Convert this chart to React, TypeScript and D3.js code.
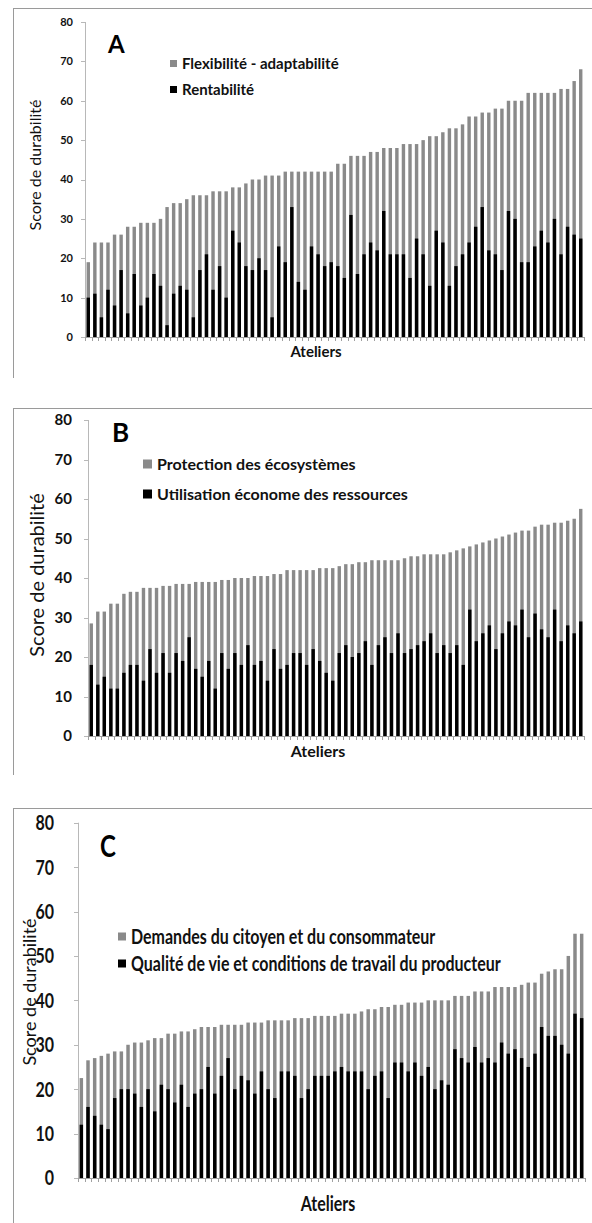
import { useEffect } from 'react';
import * as d3 from 'd3';

// A : Flexibilité - adaptabilité (gray total) / Rentabilité (black)
const totalA = [
  19, 24, 24, 24, 26, 26, 28, 28, 29, 29,
  29, 30, 33, 34, 34, 35, 36, 36, 36, 37,
  37, 37, 38, 38, 39, 40, 40, 41, 41, 41,
  42, 42, 42, 42, 42, 42, 42, 42, 44, 44,
  46, 46, 46, 47, 47, 48, 48, 48, 49, 49,
  49, 50, 51, 51, 52, 53, 53, 54, 56, 56,
  57, 57, 58, 58, 60, 60, 60, 62, 62, 62,
  62, 62, 63, 63, 65, 68,
];
const rentabilite = [
  10, 11, 5, 12, 8, 17, 6, 16, 8, 10,
  16, 13, 3, 11, 13, 12, 5, 17, 21, 12,
  18, 10, 27, 24, 18, 17, 20, 17, 5, 23,
  19, 33, 14, 12, 23, 21, 18, 19, 18, 15,
  31, 16, 21, 24, 22, 32, 21, 21, 21, 15,
  25, 21, 13, 27, 24, 13, 18, 21, 24, 28,
  33, 22, 21, 17, 32, 30, 19, 19, 23, 27,
  24, 30, 21, 28, 26, 25,
];

// B : Protection des écosystèmes (gray total) / Utilisation économe des ressources (black)
const totalB = [
  28.5, 31.5, 31.5, 33.5, 33.5, 36, 36.5, 36.5, 37.5, 37.5,
  37.5, 38, 38, 38.5, 38.5, 38.5, 39, 39, 39, 39,
  39.5, 39.5, 40, 40, 40, 40.5, 40.5, 40.5, 41, 41,
  42, 42, 42, 42, 42, 42.5, 42.5, 42.5, 43, 43.5,
  43.5, 44, 44, 44.5, 44.5, 44.5, 44.5, 44.5, 45, 45.5,
  45.5, 46, 46, 46, 46, 46.5, 47, 47.5, 48, 48.5,
  49, 49.5, 50, 50.5, 51, 51.5, 52, 52, 53, 53.5,
  53.5, 54, 54, 54.5, 55, 57.5,
];
const utilisation = [
  18, 13, 15, 12, 12, 16, 18, 18, 14, 22,
  16, 21, 16, 21, 19, 25, 17, 15, 19, 12,
  21, 17, 21, 18, 23, 18, 19, 14, 22, 17,
  18, 21, 21, 18, 22, 19, 16, 14, 21, 23,
  20, 21, 24, 18, 23, 25, 21, 26, 21, 22,
  23, 24, 26, 21, 23, 21, 23, 18, 32, 24,
  26, 28, 22, 26, 29, 28, 32, 25, 31, 27,
  25, 32, 24, 28, 26, 29,
];

// C : Demandes du citoyen et du consommateur (gray total) / Qualité de vie (black)
const totalC = [
  22.5, 26.5, 27, 27.5, 28, 28.5, 28.5, 30, 30.5, 30.5,
  31, 31.5, 31.5, 32.5, 32.5, 33, 33, 33.5, 34, 34,
  34, 34.5, 34.5, 34.5, 34.5, 35, 35, 35, 35.5, 35.5,
  35.5, 35.5, 36, 36, 36, 36.5, 36.5, 36.5, 36.5, 37,
  37, 37, 37.5, 38, 38, 38.5, 38.5, 39, 39, 39.5,
  39.5, 39.5, 40, 40, 40, 40, 41, 41, 41, 42,
  42, 42, 43, 43, 43, 43, 43.5, 44, 44, 46,
  46.5, 47, 47, 50, 55, 55,
];
const qualite = [
  12, 16, 14, 12, 11, 18, 20, 20, 19, 16,
  20, 15, 21, 20, 17, 21, 16, 19, 20, 25,
  19, 23, 27, 20, 23, 22, 19, 24, 20, 18,
  24, 24, 23, 18, 20, 23, 23, 23, 24, 25,
  24, 24, 24, 20, 23, 24, 18, 26, 26, 24,
  26, 23, 25, 20, 22, 21, 29, 27, 26, 29.5,
  26, 27, 26, 30.5, 28, 29, 27, 25, 28, 34,
  32, 32, 30, 28, 37, 36,
];

const yTicks = [0, 10, 20, 30, 40, 50, 60, 70, 80];

const FONT = 'Lato, "Open Sans", sans-serif';
const GRAY = '#8a8a8a';

interface PanelProps {
  totals: number[];
  lower: number[];
  letter: string;
  legend: [string, string];
  // geometry
  left: number;
  right: number;
  top: number;
  bottom: number;
  frameTop: number;
  frameBottom: number;
  tickFont: number;
  tickX: number;
  stretch: number; // vertical stretch of text (panel C is a bit squashed sideways)
  letterPos: [number, number, number];
  legendPos: { x: number; y1: number; y2: number; box: number; size: number };
  titlePos: [number, number, number];
  atelierPos: [number, number, number];
}

function Panel(p: PanelProps) {
  const idx = p.totals.map((_, i) => i);
  const x = d3.scaleBand<number>().domain(idx).range([p.left, p.right]).padding(0);
  const y = d3.scaleLinear().domain([0, 80]).range([p.bottom, p.top]);
  const step = x.step();
  const bw = step * 0.52;
  const off = (step - bw) / 2;
  const lg = p.legendPos;
  const s = p.stretch;

  return (
    <g>
      {/* panel frame */}
      <line x1={13} x2={592} y1={p.frameTop} y2={p.frameTop} stroke="#9a9a9a" strokeWidth={1} />
      <line x1={13.5} x2={13.5} y1={p.frameTop} y2={p.frameBottom} stroke="#9a9a9a" strokeWidth={1} />

      {/* y axis */}
      <line x1={p.left + 0.5} x2={p.left + 0.5} y1={y(80)} y2={y(0)} stroke="#b8b8b8" />
      {yTicks.map((t) => (
        <g key={t}>
          <line x1={p.left - 4} x2={p.left} y1={Math.round(y(t)) + 0.5} y2={Math.round(y(t)) + 0.5} stroke="#b8b8b8" />
          <text
            transform={`translate(${p.tickX},${y(t)}) scale(1,${s})`}
            dy="0.36em"
            textAnchor="end"
            fontFamily={FONT}
            fontWeight="bold"
            fontSize={p.tickFont}
            fill="#111"
          >
            {t}
          </text>
        </g>
      ))}

      {/* bars */}
      {idx.map((i) => (
        <g key={i}>
          <rect x={(x(i) || 0) + off} y={y(p.totals[i])} width={bw} height={y(0) - y(p.totals[i])} fill={GRAY} />
          <rect x={(x(i) || 0) + off} y={y(p.lower[i])} width={bw} height={y(0) - y(p.lower[i])} fill="#000" />
        </g>
      ))}

      {/* x axis */}
      <line x1={p.left} x2={p.right} y1={y(0) + 0.5} y2={y(0) + 0.5} stroke="#a0a0a0" />
      {idx.concat([idx.length]).map((i) => {
        const xx = Math.round(p.left + i * step) + 0.5;
        return <line key={i} x1={xx} x2={xx} y1={y(0)} y2={y(0) + 4} stroke="#a0a0a0" />;
      })}

      {/* letter */}
      <text
        transform={`translate(${p.letterPos[0]},${p.letterPos[1]}) scale(1,${s})`}
        fontFamily={FONT}
        fontWeight="bold"
        fontSize={p.letterPos[2]}
      >
        {p.letter}
      </text>

      {/* legend */}
      <rect x={lg.x} y={lg.y1 - lg.box / 2} width={lg.box} height={lg.box} fill={GRAY} />
      <text
        transform={`translate(${lg.x + lg.box + 5},${lg.y1}) scale(1,${s})`}
        dy="0.35em"
        fontFamily={FONT}
        fontWeight="bold"
        fontSize={lg.size}
        fill="#111"
      >
        {p.legend[0]}
      </text>
      <rect x={lg.x} y={lg.y2 - lg.box / 2} width={lg.box} height={lg.box} fill="#000" />
      <text
        transform={`translate(${lg.x + lg.box + 5},${lg.y2}) scale(1,${s})`}
        dy="0.35em"
        fontFamily={FONT}
        fontWeight="bold"
        fontSize={lg.size}
        fill="#111"
      >
        {p.legend[1]}
      </text>

      {/* axis titles */}
      <text
        transform={`translate(${p.titlePos[0]},${p.titlePos[1]}) rotate(-90)`}
        textAnchor="middle"
        dy="0.35em"
        fontFamily={FONT}
        fontSize={p.titlePos[2]}
        fill="#111"
      >
        Score de durabilité
      </text>
      <text
        transform={`translate(${p.atelierPos[0]},${p.atelierPos[1]}) scale(1,${s})`}
        textAnchor="middle"
        fontFamily={FONT}
        fontWeight="bold"
        fontSize={p.atelierPos[2]}
        fill="#111"
      >
        Ateliers
      </text>
    </g>
  );
}

export default function App() {
  useEffect(() => {
    document.body.style.margin = '0';
  }, []);

  return (
    <svg width={592} height={1223} style={{ display: 'block', background: '#fff' }}>
      <Panel
        totals={totalA}
        lower={rentabilite}
        letter="A"
        legend={['Flexibilité - adaptabilité', 'Rentabilité']}
        left={85}
        right={584}
        top={22}
        bottom={337}
        frameTop={8.5}
        frameBottom={378}
        tickFont={11}
        tickX={73}
        stretch={1}
        letterPos={[108, 53, 24]}
        legendPos={{ x: 170, y1: 63.5, y2: 89.5, box: 7, size: 15 }}
        titlePos={[35, 165, 16]}
        atelierPos={[316, 357, 15]}
      />
      <Panel
        totals={totalB}
        lower={utilisation}
        letter="B"
        legend={['Protection des écosystèmes', 'Utilisation économe des ressources']}
        left={88}
        right={584}
        top={420}
        bottom={736}
        frameTop={408.5}
        frameBottom={775}
        tickFont={15}
        tickX={72}
        stretch={1}
        letterPos={[112, 442, 26]}
        legendPos={{ x: 143, y1: 464, y2: 494, box: 9, size: 16 }}
        titlePos={[37, 575, 20]}
        atelierPos={[318, 757, 16]}
      />
      <Panel
        totals={totalC}
        lower={qualite}
        letter="C"
        legend={['Demandes du citoyen et du consommateur', 'Qualité de vie et conditions de travail du producteur']}
        left={78}
        right={585}
        top={822.7}
        bottom={1178}
        frameTop={808.5}
        frameBottom={1223}
        tickFont={16}
        tickX={54}
        stretch={1.3}
        letterPos={[100, 857, 24]}
        legendPos={{ x: 118, y1: 936.5, y2: 963.5, box: 8, size: 16 }}
        titlePos={[30, 992, 18]}
        atelierPos={[328, 1211, 16]}
      />
    </svg>
  );
}
